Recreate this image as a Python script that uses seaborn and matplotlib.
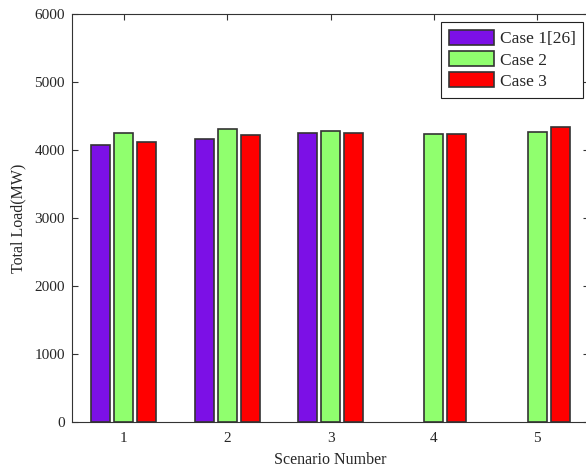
import matplotlib
matplotlib.use("Agg")
import matplotlib.pyplot as plt
import numpy as np
import pandas as pd
import seaborn as sns

scenarios = ["1", "2", "3", "4", "5"]
case1 = [4075, 4160, 4250, np.nan, np.nan]
case2 = [4245, 4305, 4285, 4230, 4270]
case3 = [4120, 4215, 4250, 4230, 4340]
case_names = ["Case 1[26]", "Case 2", "Case 3"]
colors = ["#7C10E6", "#90FF6E", "#FF0000"]

df = pd.DataFrame({
    "scenario": scenarios * 3,
    "case": [c for c in case_names for _ in scenarios],
    "load": case1 + case2 + case3,
})

sns.set_style("white")
plt.rcParams["font.family"] = ["Liberation Serif", "DejaVu Serif"]
plt.rcParams["font.size"] = 11

fig = plt.figure(figsize=(5.86, 4.70), dpi=100)
ax = fig.add_axes([72 / 586, 1 - 422 / 470, (589 - 72) / 586, (422 - 14) / 470])

sns.barplot(
    data=df, x="scenario", y="load", hue="case",
    order=scenarios, hue_order=case_names, palette=colors,
    width=0.667, gap=0.17, edgecolor="#333333", linewidth=1.2,
    saturation=1, ax=ax,
)

ax.set_xlim(-0.5, 4.5)
ax.set_ylim(0, 6000)
ax.set_yticks(range(0, 6001, 1000))
ax.set_xlabel("Scenario Number", fontsize=11.5, labelpad=5)
ax.set_ylabel("Total Load(MW)", fontsize=11.5, labelpad=6)
ax.tick_params(axis="both", direction="in", length=4, top=True, right=True,
               bottom=True, left=True, labelsize=11, color="#333333")
ax.tick_params(axis="x", pad=7)
ax.tick_params(axis="y", pad=5)
for s in ax.spines.values():
    s.set_color("#333333")
    s.set_linewidth(0.8)

leg = ax.legend(loc="upper right", bbox_to_anchor=(0.999, 0.993),
                fontsize=12.5, fancybox=False, framealpha=1,
                edgecolor="#222222", handlelength=2.6, handleheight=0.95,
                borderaxespad=0.3, labelspacing=0.22, handletextpad=0.3,
                borderpad=0.45)
leg.get_frame().set_linewidth(0.8)

fig.savefig("out.png", dpi=100)
